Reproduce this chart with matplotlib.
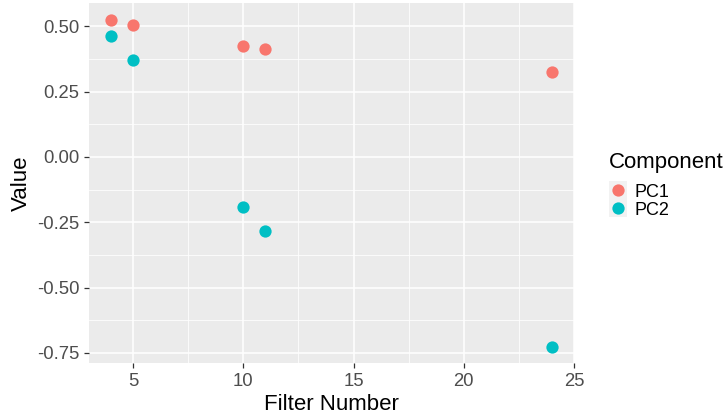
import numpy as np
import matplotlib.pyplot as plt
from matplotlib.patches import Rectangle

plt.rcParams['font.family'] = ['Liberation Sans', 'DejaVu Sans']

filters = [4, 5, 10, 11, 24]
pc1 = [0.525, 0.506, 0.426, 0.412, 0.324]
pc2 = [0.462, 0.372, -0.191, -0.284, -0.727]
components = ['PC1', 'PC2']
colors = ['#F8766D', '#00BFC4']

W, H = 726, 419
fig = plt.figure(figsize=(W / 100, H / 100), dpi=100)
ax = fig.add_axes([0.1226, 0.1329, 0.668, 0.8592])
ax.set_facecolor('#EBEBEB')
for s in ax.spines.values():
    s.set_visible(False)

for vals, col in zip([pc1, pc2], colors):
    ax.scatter(filters, vals, s=78, color=col, linewidths=0, zorder=3)

# ggplot-style expansion of 5% on both axes
allv = pc1 + pc2
xr = max(filters) - min(filters)
yr = max(allv) - min(allv)
ax.set_xlim(min(filters) - 0.05 * xr, max(filters) + 0.05 * xr)
ax.set_ylim(min(allv) - 0.05 * yr, max(allv) + 0.05 * yr)

ax.set_xticks([5, 10, 15, 20, 25])
ax.set_xticks([7.5, 12.5, 17.5, 22.5], minor=True)
ax.set_yticks([-0.75, -0.5, -0.25, 0, 0.25, 0.5])
ax.set_yticklabels(['-0.75', '-0.50', '-0.25', '0.00', '0.25', '0.50'])
ax.set_yticks([-0.625, -0.375, -0.125, 0.125, 0.375], minor=True)
ax.grid(which='major', color='white', linewidth=1.1)
ax.grid(which='minor', color='white', linewidth=0.55)
ax.set_axisbelow(True)
ax.tick_params(which='major', length=3.5, width=0.9, color='#333333',
               labelsize=13.3, labelcolor='#4D4D4D', pad=3.2)
ax.tick_params(which='minor', length=0)

ax.set_xlabel('Filter Number', fontsize=16, color='black', labelpad=3)
ax.set_ylabel('Value', fontsize=16, color='black', labelpad=4)

# legend drawn in pixel coordinates on an overlay axes
lax = fig.add_axes([0, 0, 1, 1])
lax.set_xlim(0, W)
lax.set_ylim(H, 0)
lax.axis('off')
lax.text(609, 168, 'Component', fontsize=16, va='baseline', ha='left')
for i, (name, col) in enumerate(zip(components, colors)):
    yc = 189.7 + i * 18.3
    lax.add_patch(Rectangle((609, yc - 9), 17.5, 18, facecolor='#F2F2F2',
                            edgecolor='none'))
    lax.scatter([617.8], [yc], s=78, color=col, linewidths=0)
    lax.text(634.5, yc + 7, name, fontsize=13, va='baseline', ha='left')

fig.savefig('out.png', dpi=100)
